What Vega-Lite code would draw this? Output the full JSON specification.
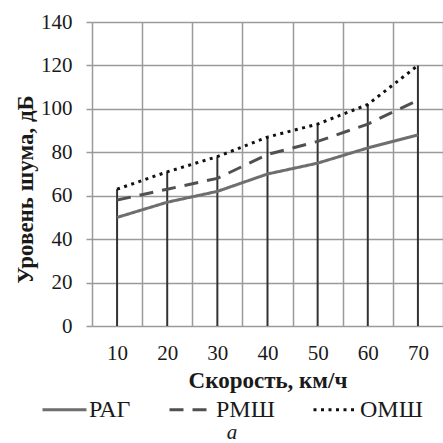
{
  "$schema": "https://vega.github.io/schema/vega-lite/v6.json",
  "autosize": "none",
  "width": 351,
  "height": 304,
  "padding": {"left": 92, "top": 22, "right": 0, "bottom": 117},
  "background": "white",
  "config": {
    "font": "Liberation Serif, Times New Roman, serif",
    "view": {"stroke": null},
    "axis": {
      "labelFont": "Liberation Serif, Times New Roman, serif",
      "titleFont": "Liberation Serif, Times New Roman, serif",
      "labelFontSize": 21,
      "titleFontSize": 23,
      "labelColor": "#1a1a1a",
      "titleColor": "#1a1a1a",
      "titleFontWeight": "bold",
      "gridColor": "#9a9a9a",
      "gridWidth": 1.5,
      "gridOpacity": 1
    },
    "legend": {
      "labelFont": "Liberation Serif, Times New Roman, serif",
      "titleFont": "Liberation Serif, Times New Roman, serif"
    }
  },
  "data": {
    "values": [
      {"speed": 10, "series": "РАГ", "value": 50},
      {"speed": 20, "series": "РАГ", "value": 57},
      {"speed": 30, "series": "РАГ", "value": 62},
      {"speed": 40, "series": "РАГ", "value": 70},
      {"speed": 50, "series": "РАГ", "value": 75},
      {"speed": 60, "series": "РАГ", "value": 82},
      {"speed": 70, "series": "РАГ", "value": 88},
      {"speed": 10, "series": "РМШ", "value": 58},
      {"speed": 20, "series": "РМШ", "value": 63},
      {"speed": 30, "series": "РМШ", "value": 68},
      {"speed": 40, "series": "РМШ", "value": 79},
      {"speed": 50, "series": "РМШ", "value": 85},
      {"speed": 60, "series": "РМШ", "value": 93},
      {"speed": 70, "series": "РМШ", "value": 104},
      {"speed": 10, "series": "ОМШ", "value": 63},
      {"speed": 20, "series": "ОМШ", "value": 71},
      {"speed": 30, "series": "ОМШ", "value": 78},
      {"speed": 40, "series": "ОМШ", "value": 87},
      {"speed": 50, "series": "ОМШ", "value": 93},
      {"speed": 60, "series": "ОМШ", "value": 102},
      {"speed": 70, "series": "ОМШ", "value": 120}
    ]
  },
  "layer": [
    {
      "transform": [
        {"aggregate": [{"op": "max", "field": "value", "as": "top"}], "groupby": ["speed"]}
      ],
      "mark": {"type": "rule", "color": "#333333", "strokeWidth": 2},
      "encoding": {
        "x": {
          "field": "speed",
          "type": "ordinal",
          "scale": {"type": "band", "paddingInner": 0, "paddingOuter": 0},
          "axis": {
            "title": "Скорость, км/ч",
            "labelAngle": 0,
            "tickBand": "extent",
            "grid": true,
            "ticks": false,
            "domain": false,
            "labelPadding": 16,
            "titlePadding": 6
          }
        },
        "y": {
          "field": "top",
          "type": "quantitative",
          "scale": {"domain": [0, 140], "nice": false},
          "axis": {
            "title": "Уровень шума, дБ",
            "values": [0, 20, 40, 60, 80, 100, 120, 140],
            "grid": true,
            "domain": false,
            "ticks": true,
            "tickSize": 6,
            "tickColor": "#9a9a9a",
            "tickWidth": 1.5,
            "labelPadding": 14,
            "titlePadding": 3,
            "titleY": 167
          }
        },
        "y2": {"datum": 0}
      }
    },
    {
      "mark": {"type": "line"},
      "encoding": {
        "x": {"field": "speed", "type": "ordinal"},
        "y": {"field": "value", "type": "quantitative"},
        "strokeWidth": {
          "field": "series",
          "type": "nominal",
          "scale": {"domain": ["РАГ", "РМШ", "ОМШ"], "range": [3, 3, 3.5]},
          "legend": null
        },
        "color": {
          "field": "series",
          "type": "nominal",
          "scale": {"domain": ["РАГ", "РМШ", "ОМШ"], "range": ["#6e6e6e", "#505050", "#111111"]},
          "legend": {
            "title": "а",
            "titleOrient": "bottom",
            "titleAnchor": "middle",
            "titleFontStyle": "italic",
            "titleFontWeight": "normal",
            "titleFontSize": 21,
            "titleColor": "#1a1a1a",
            "titlePadding": 0,
            "orient": "none",
            "direction": "horizontal",
            "legendX": -51,
            "legendY": 364,
            "symbolType": "stroke",
            "symbolSize": 1936,
            "symbolStrokeWidth": 3,
            "labelFontSize": 24,
            "labelColor": "#1a1a1a",
            "labelOffset": 1,
            "columnPadding": 32
          }
        },
        "strokeDash": {
          "field": "series",
          "type": "nominal",
          "scale": {"domain": ["РАГ", "РМШ", "ОМШ"], "range": [[1, 0], [14, 9], [3, 4.5]]},
          "legend": {
            "title": "а",
            "titleOrient": "bottom",
            "titleAnchor": "middle",
            "titleFontStyle": "italic",
            "titleFontWeight": "normal",
            "titleFontSize": 21,
            "titleColor": "#1a1a1a",
            "titlePadding": 0,
            "orient": "none",
            "direction": "horizontal",
            "legendX": -51,
            "legendY": 364,
            "symbolType": "stroke",
            "symbolSize": 1936,
            "symbolStrokeWidth": 3,
            "labelFontSize": 24,
            "labelColor": "#1a1a1a",
            "labelOffset": 1,
            "columnPadding": 32
          }
        }
      }
    }
  ]
}
